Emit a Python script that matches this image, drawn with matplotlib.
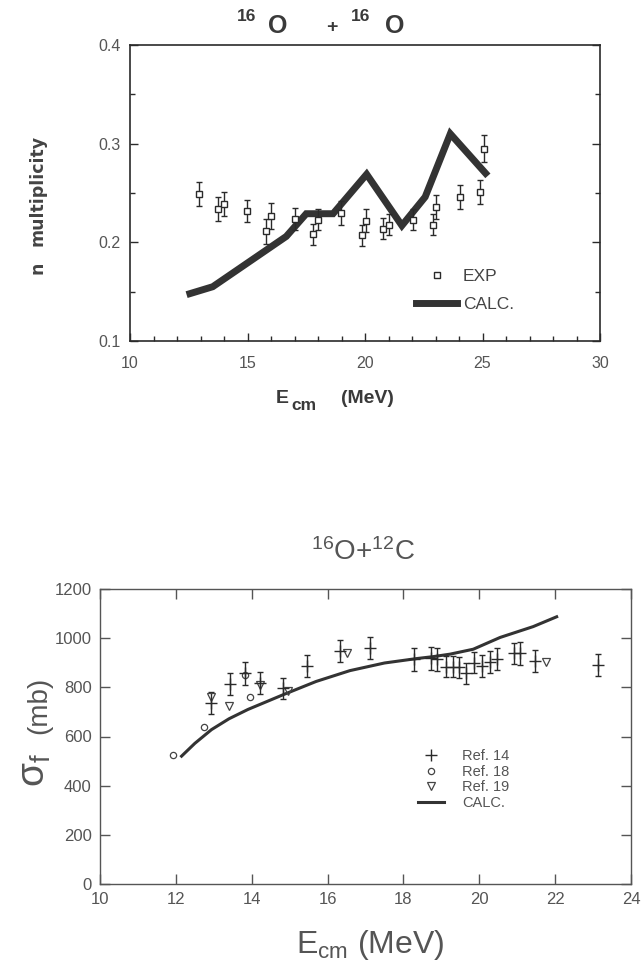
import matplotlib
matplotlib.use("Agg")
import matplotlib.pyplot as plt
from matplotlib.ticker import MultipleLocator

plt.rcParams['font.family'] = ['Liberation Sans', 'DejaVu Sans']
plt.rcParams['mathtext.fontset'] = 'custom'
plt.rcParams['mathtext.rm'] = 'Liberation Sans'
plt.rcParams['mathtext.it'] = 'Liberation Sans:italic'
plt.rcParams['mathtext.bf'] = 'Liberation Sans:bold'

# ---------------- top panel data: 16O + 16O neutron multiplicity ----------------
exp_e = [12.95, 13.76, 14.02, 14.97, 15.80, 15.98, 17.01, 17.79, 18.00, 18.97,
         19.86, 20.04, 20.78, 21.00, 22.06, 22.89, 23.03, 24.03, 24.91, 25.06]
exp_n = [0.249, 0.234, 0.239, 0.232, 0.211, 0.227, 0.224, 0.208, 0.223, 0.230,
         0.207, 0.222, 0.214, 0.218, 0.223, 0.218, 0.236, 0.246, 0.251, 0.295]
exp_err = [0.012, 0.012, 0.012, 0.011, 0.013, 0.013, 0.011, 0.011, 0.011, 0.012,
           0.011, 0.012, 0.011, 0.011, 0.011, 0.011, 0.012, 0.012, 0.012, 0.014]
calc_e = [12.55, 13.52, 16.65, 17.50, 18.64, 20.07, 21.57, 22.56, 23.63, 25.13]
calc_n = [0.148, 0.155, 0.206, 0.229, 0.229, 0.269, 0.217, 0.246, 0.310, 0.270]

# ---------------- bottom panel data: 16O + 12C fusion cross section ----------------
r14_e = [12.93, 13.43, 13.82, 14.22, 14.83, 15.47, 16.33, 17.12, 18.28, 18.72,
         18.88, 19.11, 19.30, 19.47, 19.65, 19.86, 20.06, 20.28, 20.48, 20.92,
         21.07, 21.47, 23.12]
r14_s = [735, 814, 857, 819, 796, 887, 949, 959, 914, 918,
         914, 884, 884, 881, 857, 900, 887, 904, 914, 938,
         938, 908, 891]
r14_err = [44, 45, 47, 45, 43, 43, 45, 45, 46, 47,
           47, 42, 42, 42, 42, 42, 43, 44, 44, 44,
           47, 45, 45]
r18_e = [11.92, 12.74, 13.82, 13.95]
r18_s = [525, 640, 850, 762]
r19_e = [12.93, 13.40, 14.22, 14.96, 16.50, 21.75]
r19_s = [762, 724, 810, 786, 938, 904]
fus_calc_e = [12.15, 12.5, 12.94, 13.4, 13.9, 14.83, 15.7, 16.59, 17.5, 18.35,
              18.79, 19.23, 19.84, 20.55, 21.42, 22.04]
fus_calc_s = [520, 572, 628, 672, 710, 770, 824, 868, 899, 917,
              925, 935, 955, 1003, 1047, 1087]

W, H = 643, 966
fig = plt.figure(figsize=(W / 100, H / 100), dpi=100)

def box(l, t, r, b):
    return [l / W, 1 - b / H, (r - l) / W, (b - t) / H]

def px(x, y):
    return x / W, 1 - y / H

dark = '#2a2a2a'
tdark = '#3a3a3a'
grey = '#555555'

# ================= top panel =================
ax1 = fig.add_axes(box(130, 45, 600, 341))
ax1.errorbar(exp_e, exp_n, yerr=exp_err, fmt='none', ecolor=dark,
             elinewidth=1.0, capsize=2.5, capthick=1.0, zorder=3)
h_exp, = ax1.plot(exp_e, exp_n, 's', mfc='white', mec=dark, ms=4.5, mew=1.0,
                  zorder=4)
h_calc, = ax1.plot(calc_e, calc_n, color='#333333', lw=5,
                   solid_joinstyle='miter', zorder=2)
ax1.set_xlim(10, 30)
ax1.set_ylim(0.1, 0.4)
ax1.xaxis.set_minor_locator(MultipleLocator(1))
ax1.yaxis.set_minor_locator(MultipleLocator(0.05))
ax1.set_xticks([10, 15, 20, 25, 30])
ax1.set_xticklabels(['10', '15', '20', '25', '30'])
ax1.set_yticks([0.1, 0.2, 0.3, 0.4])
ax1.set_yticklabels(['0.1', '0.2', '0.3', '0.4'])
ax1.tick_params(which='both', direction='in', colors=dark, labelcolor=grey,
                labelsize=11.5, width=1.0, right=True, top=False)
ax1.tick_params(which='major', length=6)
ax1.tick_params(which='minor', length=3.5)
ax1.tick_params(axis='y', which='major', pad=7)
ax1.tick_params(axis='x', which='major', pad=11)
for s in ax1.spines.values():
    s.set_color(dark)
    s.set_linewidth(1.2)

leg1 = ax1.legend([h_exp, h_calc], ['EXP', 'CALC.'], loc='upper left',
                  bbox_to_anchor=(0.608, 0.243), frameon=False,
                  fontsize=12.5, handlelength=2.4, handletextpad=0.3,
                  labelspacing=0.75, borderpad=0, borderaxespad=0)
for t in leg1.get_texts():
    t.set_color('#444444')

# y label (two words as in the original)
fig.text(*px(43, 190), 'multiplicity', rotation=90, rotation_mode='anchor',
         ha='center', va='baseline', fontsize=12.5, fontweight='bold',
         color='#444444', family='DejaVu Sans')
fig.text(*px(43, 268), 'n', rotation=90, rotation_mode='anchor',
         ha='center', va='baseline', fontsize=12.5, fontweight='bold',
         color='#444444', family='DejaVu Sans')

# x label  E_cm   (MeV)
fig.text(*px(276, 403), 'E', ha='left', va='baseline', fontsize=14,
         fontweight='bold', color=tdark)
fig.text(*px(291, 410), 'cm', ha='left', va='baseline', fontsize=12.5,
         fontweight='bold', color=tdark)
fig.text(*px(341, 403), '(MeV)', ha='left', va='baseline', fontsize=14,
         fontweight='bold', color=tdark)

# title  16O  + 16O
fig.text(*px(237, 21), '16', ha='left', va='baseline', fontsize=12.5,
         fontweight='bold', color=tdark)
fig.text(*px(268, 33), 'O', ha='left', va='baseline', fontsize=18,
         fontweight='bold', color=tdark)
fig.text(*px(326, 32), '+', ha='left', va='baseline', fontsize=14,
         fontweight='bold', color=tdark)
fig.text(*px(351, 21), '16', ha='left', va='baseline', fontsize=12.5,
         fontweight='bold', color=tdark)
fig.text(*px(385, 33), 'O', ha='left', va='baseline', fontsize=18,
         fontweight='bold', color=tdark)

# ================= bottom panel =================
ax2 = fig.add_axes(box(100, 589, 631, 884))
ax2.errorbar(r14_e, r14_s, yerr=r14_err, fmt='none', ecolor=dark,
             elinewidth=1.0, capsize=2, capthick=1.0, zorder=3)
h14, = ax2.plot(r14_e, r14_s, '+', color=dark, ms=8, mew=1.0, zorder=4)
h18, = ax2.plot(r18_e, r18_s, 'o', mfc='none', mec='#444444', ms=4.5, mew=0.9,
                zorder=3)
h19, = ax2.plot(r19_e, r19_s, 'v', mfc='none', mec='#444444', ms=5.5, mew=0.9,
                zorder=3)
hc, = ax2.plot(fus_calc_e, fus_calc_s, color='#333333', lw=2.2, zorder=2)
ax2.set_xlim(10, 24)
ax2.set_ylim(0, 1200)
ax2.set_xticks([10, 12, 14, 16, 18, 20, 22, 24])
ax2.set_yticks([0, 200, 400, 600, 800, 1000, 1200])
ax2.tick_params(which='both', direction='in', colors='#555555', labelcolor=grey,
                labelsize=12, width=1.0, length=7.5, pad=6, top=True, right=True)
for s in ax2.spines.values():
    s.set_color('#555555')
    s.set_linewidth(1.0)

leg2 = ax2.legend([h14, h18, h19, hc], ['Ref. 14', 'Ref. 18', 'Ref. 19', 'CALC.'],
                  loc='upper left', bbox_to_anchor=(0.599, 0.458), frameon=False,
                  fontsize=10.5, handlelength=1.8, handletextpad=1.2,
                  labelspacing=0.12, borderpad=0, borderaxespad=0)
for t in leg2.get_texts():
    t.set_color(grey)

fig.text(*px(45, 770), r'$\mathrm{\sigma}_{\mathrm{f}}$', rotation=90,
         rotation_mode='anchor', ha='center', va='baseline', fontsize=28,
         color=grey)
fig.text(*px(46, 705), '(mb)', rotation=90, rotation_mode='anchor',
         ha='center', va='baseline', fontsize=20, color=grey)
fig.text(*px(370, 945), r'E$_{\rm cm}$ (MeV)', ha='center', va='center',
         fontsize=23, color=grey)
fig.text(*px(363, 552), r'$^{16}$O+$^{12}$C', ha='center', va='center',
         fontsize=20, color=grey)

fig.savefig('out.png', dpi=100, facecolor='white')
